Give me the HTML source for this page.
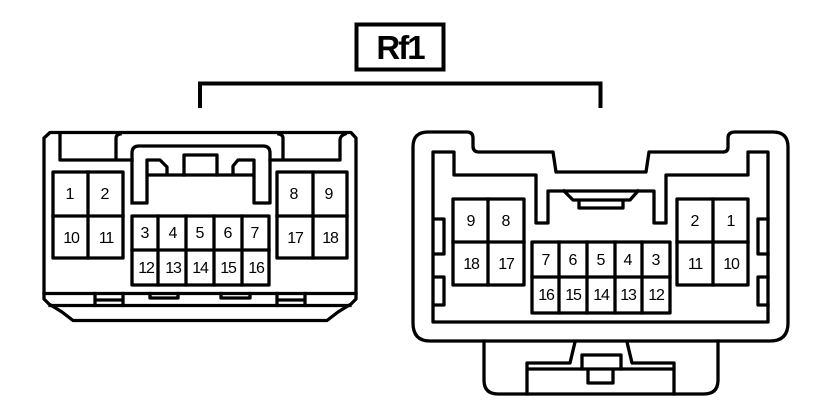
<!DOCTYPE html>
<html>
<head>
<meta charset="utf-8">
<style>
html,body{margin:0;padding:0;background:#fff;width:832px;height:416px;overflow:hidden}
svg{display:block}
.l{fill:none;stroke:#000;stroke-width:3.300;stroke-linejoin:round;stroke-linecap:square}
text{font-family:"Liberation Sans",sans-serif;font-size:16px;fill:#000;text-anchor:middle}
.t{letter-spacing:-1.200px}
</style>
</head>
<body>
<svg width="832" height="416" viewBox="0 0 832 416" xmlns="http://www.w3.org/2000/svg">
<!-- title -->
<rect x="356.500" y="24.500" width="87" height="45" fill="none" stroke="#000" stroke-width="4"/>
<text x="400" y="59" style="font-size:33px;font-weight:bold;letter-spacing:-2px">Rf1</text>
<path d="M200,108V83.500H600.500V108" fill="none" stroke="#000" stroke-width="4"/>

<!-- left connector -->
<g class="l">
<path d="M44,138L50,132.500H351L356,138V299L351,304L338,312L327,320.500H73L62,312L49,304L44,299Z"/>
<path d="M44,293.500H356M50,305.500H350"/>
<path d="M95,293.500V305.500M123,293.500V305.500M95,300H123M277,293.500V305.500M305,293.500V305.500M277,300H305"/>
<path d="M150,293.500V298H178V293.500M221,293.500V298H250V293.500"/>
<path d="M60,133V160H132M116,160V138Q116,135 120,134M283,160V138Q283,135 279,134M270,160H340V140Q340,136 345,134"/>
<path d="M132,203V153Q132,146 139,146H263Q270,146 270,153V203H254V160H238L233,166V175M132,203H147V160H160L167,167V175M147,175H254"/>
<path d="M184,175V155H217V175"/>
<rect x="53" y="172" width="70" height="86"/>
<path d="M88,172V258M53,216H123"/>
<rect x="277" y="172" width="70" height="86"/>
<path d="M313,172V258M277,216H347"/>
<rect x="132" y="216" width="137" height="69"/>
<path d="M132,250H269M158,216V285M186,216V285M214,216V285M242,216V285"/>
</g>
<text x="70" y="199">1</text><text x="105" y="199">2</text>
<text class="t" x="71" y="243">10</text><text class="t" x="106" y="243">11</text>
<text x="294" y="199">8</text><text x="329" y="199">9</text>
<text class="t" x="295" y="243">17</text><text class="t" x="330" y="243">18</text>
<text x="145" y="238">3</text><text x="173" y="238">4</text><text x="200" y="238">5</text><text x="228" y="238">6</text><text x="255" y="238">7</text>
<text class="t" x="146" y="273">12</text><text class="t" x="173" y="273">13</text><text class="t" x="200" y="273">14</text><text class="t" x="228" y="273">15</text><text class="t" x="256" y="273">16</text>

<!-- right connector -->
<g class="l">
<path d="M413,147Q413,132 428,132H467Q473,132 473,138V146Q473,152 479,152H553L556,172H646L649,152H723Q728,152 728,147V138Q728,132 735,132H773Q788,132 788,147V323Q788,341 770,341H430Q413,341 413,323Z"/>
<path d="M433,152H454V175H536V223H548V191H654V223H666V175H748V152H768V322H433Z"/>
<path d="M564,191L573,200H630L638,191M579,200V208H623V200"/>
<path d="M434,219H444V254H434M434,277H444V305H434M768,219H758V254H768M768,277H758V305H768"/>
<rect x="453" y="199" width="71" height="86"/>
<path d="M488,199V285M453,242H524"/>
<rect x="677" y="199" width="71" height="86"/>
<path d="M713,199V285M677,242H748"/>
<rect x="532" y="242" width="138" height="71"/>
<path d="M532,277H670M559,242V313M587,242V313M615,242V313M642,242V313"/>
<path d="M484,341V380Q484,394 498,394H704Q718,394 718,380V341"/>
<path d="M575,342L570,363H527V394M627,342L632,363H674V394M527,369H674"/>
<path d="M582,369V355H621V369M588,370V383H613V370"/>
</g>
<text x="471" y="226">9</text><text x="506" y="226">8</text>
<text class="t" x="471" y="269">18</text><text class="t" x="506" y="269">17</text>
<text x="695" y="226">2</text><text x="731" y="226">1</text>
<text class="t" x="695" y="269">11</text><text class="t" x="731" y="269">10</text>
<text x="546" y="265">7</text><text x="573" y="265">6</text><text x="601" y="265">5</text><text x="628" y="265">4</text><text x="656" y="265">3</text>
<text class="t" x="546" y="300">16</text><text class="t" x="573" y="300">15</text><text class="t" x="601" y="300">14</text><text class="t" x="628" y="300">13</text><text class="t" x="656" y="300">12</text>
</svg>
</body>
</html>
